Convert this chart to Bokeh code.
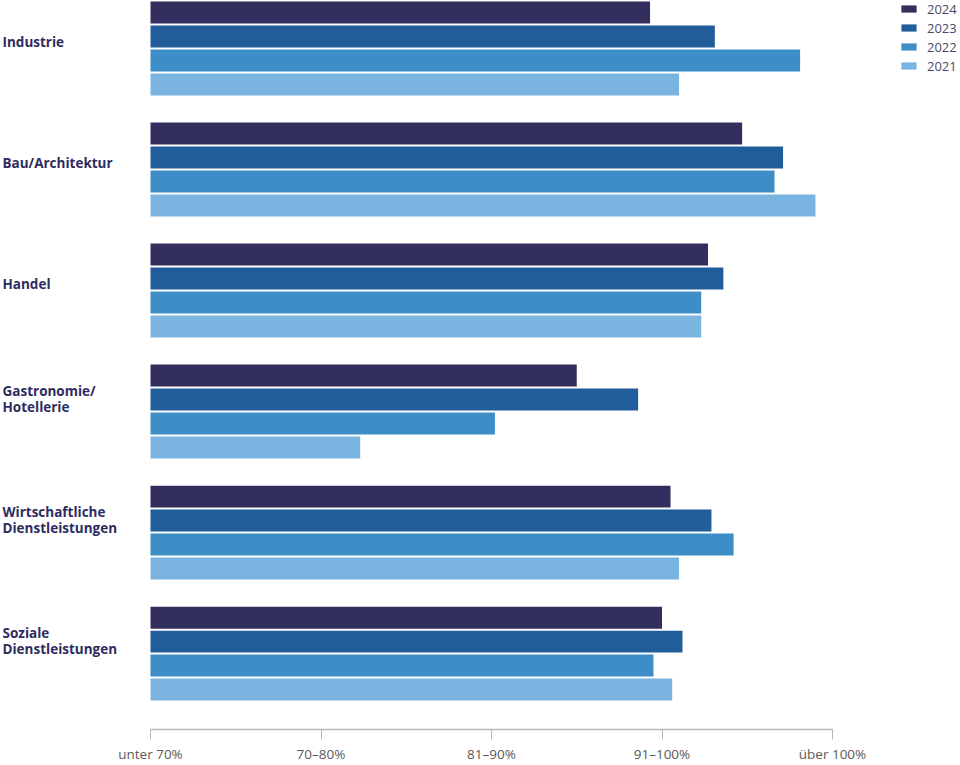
from bokeh.plotting import figure
from bokeh.models import Range1d, FixedTicker, ColumnDataSource, Legend, LegendItem
from bokeh.core.properties import value
from bokeh.embed import file_html
from bokeh.resources import INLINE

# ---------------- data ----------------
categories = ["Industrie", "Bau/Architektur", "Handel", "Gastronomie/\nHotellerie",
              "Wirtschaftliche\nDienstleistungen", "Soziale\nDienstleistungen"]
years = ["2024", "2023", "2022", "2021"]
values_2024 = [2.93, 3.47, 3.27, 2.50, 3.05, 3.00]
values_2023 = [3.31, 3.71, 3.36, 2.86, 3.29, 3.12]
values_2022 = [3.81, 3.66, 3.23, 2.02, 3.42, 2.95]
values_2021 = [3.10, 3.90, 3.23, 1.23, 3.10, 3.06]
tick_labels = ["unter 70%", "70–80%", "81–90%", "91–100%", "über 100%"]

series = {"2024": values_2024, "2023": values_2023, "2022": values_2022, "2021": values_2021}
colors = {"2024": "#322e5d", "2023": "#225d9b", "2022": "#3d8ec7", "2021": "#7ab4e0"}

# ---------------- layout ----------------
W, H = 960, 765
BOTTOM = 35
PPX = 170.5                 # pixels per category step on x
X0 = 150                    # pixel where the scale starts
G = 5.05                    # group pitch in bar slots
BAR_H = 0.917
PPU = 24.0                  # pixels per bar slot
Y_END = BAR_H / 2 + 1 / PPU
Y_START = Y_END - (H - BOTTOM) / PPU

p = figure(width=W, height=H,
           x_range=Range1d(-X0 / PPX, (W - X0) / PPX),
           y_range=Range1d(Y_START, Y_END),
           output_backend="svg", toolbar_location=None, y_axis_location=None,
           min_border_left=0, min_border_right=0, min_border_top=0, min_border_bottom=BOTTOM)
p.outline_line_color = None
p.xgrid.visible = False
p.ygrid.visible = False
p.background_fill_color = "white"
p.border_fill_color = "white"

renderers = []
for k, yr in enumerate(years):
    ys = [-(g * G + k) for g in range(len(categories))]
    src = ColumnDataSource(dict(y=ys, v=series[yr]))
    r = p.hbar(y="y", left=0, right="v", height=BAR_H, source=src,
               fill_color=colors[yr], line_color=None)
    renderers.append(r)

# x axis
ax = p.xaxis[0]
ax.ticker = FixedTicker(ticks=list(range(len(tick_labels))))
ax.major_label_overrides = {i: t for i, t in enumerate(tick_labels)}
ax.bounds = (0, len(tick_labels) - 1)
ax.axis_line_color = "#b8b8b8"
ax.axis_line_width = 1.5
ax.major_tick_line_color = "#b8b8b8"
ax.major_tick_line_width = 1
ax.major_tick_in = 0
ax.major_tick_out = 10
ax.minor_tick_line_color = None
ax.major_label_standoff = 5
ax.major_label_text_font = "Open Sans"
ax.major_label_text_font_size = "13.5px"
ax.major_label_text_color = "#5a5a5a"

# category labels
lx, ly, lt = [], [], []
for g, cat in enumerate(categories):
    center = -(g * G + 1.5)
    lines = cat.split("\n")
    offs = [6.5] if len(lines) == 1 else [20.5, 4.5]
    for line, o in zip(lines, offs):
        lx.append((2 - X0) / PPX)
        ly.append(center + o / PPU)
        lt.append(line)
lab_src = ColumnDataSource(dict(x=lx, y=ly, t=lt))
p.text(x="x", y="y", text="t", source=lab_src,
       text_font=value("Open Sans"), text_font_style="bold", text_font_size="13.5px",
       text_color="#2e2b5f", text_baseline="middle", text_align="left")

# legend
legend = Legend(items=[LegendItem(label=yr, renderers=[r]) for yr, r in zip(years, renderers)],
                location=(899, H - BOTTOM - 76), orientation="vertical",
                glyph_width=19, glyph_height=9, label_standoff=9, spacing=0,
                padding=0, margin=0, label_height=19,
                border_line_color=None, background_fill_alpha=0,
                label_text_font="Open Sans", label_text_font_size="13px",
                label_text_color="#4a4a66")
p.add_layout(legend)

open("out.html", "w").write(file_html(p, INLINE))
